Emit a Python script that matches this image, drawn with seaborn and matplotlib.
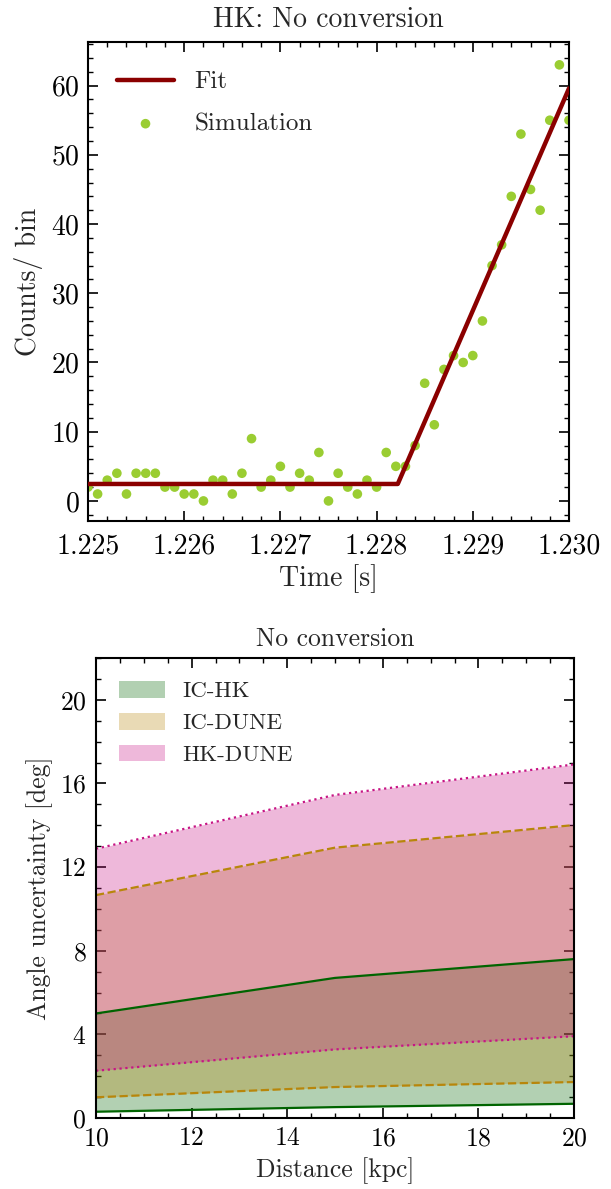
import numpy as np
import pandas as pd
import matplotlib
matplotlib.use("Agg")
import matplotlib.pyplot as plt
import seaborn as sns
from matplotlib.ticker import MultipleLocator, FormatStrFormatter
from matplotlib.patches import Patch

# ---------------- data ----------------
# Top panel: simulated counts per 0.1 ms bin
sim_time = [1.2250 + 0.0001 * i for i in range(51)]
sim_counts = [2, 1, 3, 4, 1, 4, 4, 4, 2, 2,
              1, 1, 0, 3, 3, 1, 4, 9, 2, 3,
              5, 2, 4, 3, 7, 0, 4, 2, 1, 3,
              2, 7, 5, 5, 8, 17, 11, 19, 21, 20,
              21, 26, 34, 37, 44, 53, 45, 42, 55, 63,
              55]
fit_time = [1.2250, 1.22822, 1.2300]
fit_counts = [2.45, 2.45, 59.6]

# Bottom panel: angle uncertainty bands vs distance
distance = [10, 15, 20]
ichk_low = [0.30, 0.52, 0.68]
ichk_high = [5.0, 6.70, 7.60]
icdune_low = [0.99, 1.48, 1.72]
icdune_high = [10.66, 12.93, 14.01]
hkdune_low = [2.26, 3.28, 3.91]
hkdune_high = [12.88, 15.45, 16.91]
band_names = ["IC-HK", "IC-DUNE", "HK-DUNE"]

# ---------------- style ----------------
sns.set_style("ticks")
plt.rcParams["font.family"] = ["cmr10", "DejaVu Serif"]
plt.rcParams["mathtext.fontset"] = "cm"
plt.rcParams["axes.formatter.use_mathtext"] = True
plt.rcParams["axes.unicode_minus"] = False
plt.rcParams["axes.linewidth"] = 1.5
plt.rcParams["axes.edgecolor"] = "black"
for ax_ in ("x", "y"):
    plt.rcParams[f"{ax_}tick.direction"] = "in"
    plt.rcParams[f"{ax_}tick.major.size"] = 7
    plt.rcParams[f"{ax_}tick.minor.size"] = 3.5
    plt.rcParams[f"{ax_}tick.major.width"] = 1.2
    plt.rcParams[f"{ax_}tick.minor.width"] = 1.0
    plt.rcParams[f"{ax_}tick.color"] = "black"
plt.rcParams["xtick.top"] = True
plt.rcParams["ytick.right"] = True

fig = plt.figure(figsize=(6.11, 11.89), dpi=100)

# ---------------- top panel ----------------
ax1 = fig.add_axes([88 / 611, 1 - 521 / 1189, (569 - 88) / 611, (521 - 42) / 1189])
df_sim = pd.DataFrame({"t": sim_time, "c": sim_counts})
df_fit = pd.DataFrame({"t": fit_time, "c": fit_counts})
sns.lineplot(data=df_fit, x="t", y="c", ax=ax1, color="#8b0000", lw=3.2,
             label="Fit", zorder=3)
sns.scatterplot(data=df_sim, x="t", y="c", ax=ax1, color="#9acd32", s=48,
                edgecolor="none", label="Simulation", zorder=2)
ax1.set_xlim(1.225, 1.230)
ax1.set_ylim(-2.9, 66.3)
ax1.xaxis.set_major_locator(MultipleLocator(0.001))
ax1.xaxis.set_minor_locator(MultipleLocator(0.0002))
ax1.xaxis.set_major_formatter(FormatStrFormatter("%.3f"))
ax1.yaxis.set_major_locator(MultipleLocator(10))
ax1.yaxis.set_minor_locator(MultipleLocator(2))
ax1.tick_params(which="both", direction="in", top=True, right=True, labelsize=20)
ax1.tick_params(axis="x", which="major", pad=9)
ax1.tick_params(axis="y", which="major", pad=6)
ax1.set_xlabel("Time [s]", fontsize=20, labelpad=3)
ax1.set_ylabel("Counts/ bin", fontsize=20, labelpad=6)
ax1.set_title("HK: No conversion", fontsize=20, pad=11)
leg1 = ax1.legend(loc="upper left", frameon=False, fontsize=18,
                  handlelength=2.3, borderaxespad=0.75, labelspacing=0.78)

# ---------------- bottom panel ----------------
ax2 = fig.add_axes([96 / 611, 1 - 1118 / 1189, (574 - 96) / 611, (1118 - 658) / 1189])
bands = [
    (ichk_low, ichk_high, "darkgreen", "-"),
    (icdune_low, icdune_high, "darkgoldenrod", "--"),
    (hkdune_low, hkdune_high, "mediumvioletred", ":"),
]
handles = []
for (lo, hi, col, ls), name in zip(bands, band_names):
    ax2.fill_between(distance, lo, hi, color=col, alpha=0.3, lw=0)
    dfl = pd.DataFrame({"d": distance, "lo": lo, "hi": hi})
    sns.lineplot(data=dfl, x="d", y="lo", ax=ax2, color=col, ls=ls, lw=1.6)
    sns.lineplot(data=dfl, x="d", y="hi", ax=ax2, color=col, ls=ls, lw=1.6)
    handles.append(Patch(facecolor=col, alpha=0.3, edgecolor="none", label=name))
ax2.set_xlim(10, 20)
ax2.set_ylim(0, 22)
ax2.xaxis.set_major_locator(MultipleLocator(2))
ax2.xaxis.set_minor_locator(MultipleLocator(0.5))
ax2.yaxis.set_major_locator(MultipleLocator(4))
ax2.yaxis.set_minor_locator(MultipleLocator(1))
ax2.tick_params(which="both", direction="in", top=True, right=True, labelsize=18.5)
ax2.tick_params(axis="x", which="major", pad=6)
ax2.tick_params(axis="y", which="major", pad=7)
ax2.set_xlabel("Distance [kpc]", fontsize=18.5, labelpad=5)
ax2.set_ylabel("Angle uncertainty [deg]", fontsize=18.5, labelpad=5)
ax2.set_title("No conversion", fontsize=18.5, pad=9)
ax2.legend(handles=handles, loc="upper left", frameon=False, fontsize=16.5,
           handlelength=2.0, handleheight=0.75, handletextpad=0.75,
           borderaxespad=0.6, labelspacing=0.5)

fig.savefig("out.png", dpi=100)
